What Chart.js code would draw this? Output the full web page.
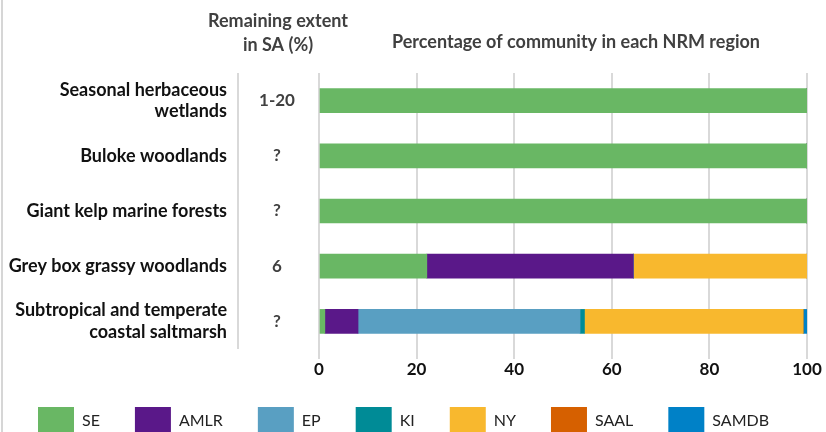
<!DOCTYPE html>
<html>
<head>
<meta charset="utf-8">
<script src="https://cdn.jsdelivr.net/npm/chart.js@4"></script>
<style>
  html, body { margin: 0; padding: 0; background: #fff; overflow: hidden; }
  #wrap { width: 826px; height: 432px; }
</style>
</head>
<body>
<div id="wrap"><canvas id="chart" width="826" height="432"></canvas></div>
<script>
//------------------Data------------------
const communities = [
  ['Seasonal herbaceous', 'wetlands'],
  'Buloke woodlands',
  'Giant kelp marine forests',
  'Grey box grassy woodlands',
  ['Subtropical and temperate', 'coastal saltmarsh'],
];
const remainingExtent = ['1-20', '?', '?', '6', '?'];
const regions = ['SE', 'AMLR', 'EP', 'KI', 'NY', 'SAAL', 'SAMDB'];
const seVals = [100, 100, 100, 22.1, 1.2];
const amlrVals = [0, 0, 0, 42.3, 6.8];
const epVals = [0, 0, 0, 0, 45.5];
const kiVals = [0, 0, 0, 0, 0.9];
const nyVals = [0, 0, 0, 35.6, 44.8];
const saalVals = [0, 0, 0, 0, 0];
const samdbVals = [0, 0, 0, 0, 0.8];
const xTicks = [0, 20, 40, 60, 80, 100];

const regionColors = ['#69b764', '#5a1889', '#599fc2', '#008b96', '#f8b82e', '#d66000', '#0081c7'];
const seriesVals = [seVals, amlrVals, epVals, kiVals, nyVals, saalVals, samdbVals];

const FONT = 'Lato, "Open Sans", sans-serif';

//------------------Extra drawing: headers, extent column, frame------------------
const extrasPlugin = {
  id: 'extras',
  beforeLayout(chart) {
    // legend only takes the strip under the axis labels
    const legend = chart.legend;
    if (legend && !legend._patched) {
      const fit = legend.fit;
      legend.fit = function () {
        fit.call(this);
        this.height = 53;
      };
      legend._patched = true;
    }
  },
  afterLayout(chart) {
    // pull the legend up a little so its boxes sit where the original has them
    const legend = chart.legend;
    legend.top = 372;
    legend.height = 60;
    legend.bottom = 432;
  },
  afterDraw(chart) {
    const ctx = chart.ctx;
    const area = chart.chartArea;
    const yScale = chart.scales.y;
    ctx.save();

    // frame line on the left
    ctx.strokeStyle = '#c8c8c8';
    ctx.lineWidth = 1.5;
    ctx.beginPath();
    ctx.moveTo(2, 0);
    ctx.lineTo(2, 432);
    ctx.stroke();

    // separator between labels and extent column
    ctx.strokeStyle = '#d9d9d9';
    ctx.lineWidth = 2;
    ctx.beginPath();
    ctx.moveTo(238, area.top);
    ctx.lineTo(238, area.bottom);
    ctx.stroke();

    // header texts
    ctx.fillStyle = '#404040';
    ctx.font = `bold 18px ${FONT}`;
    ctx.textAlign = 'center';
    ctx.textBaseline = 'middle';
    ctx.fillText('Remaining extent', 278, 21);
    ctx.fillText('in SA (%)', 278, 45);
    ctx.fillText('Percentage of community in each NRM region', 576, 42);

    // extent values
    ctx.font = `bold 17px ${FONT}`;
    remainingExtent.forEach((v, i) => {
      ctx.fillText(v, 277, yScale.getPixelForValue(i));
    });
    ctx.restore();
  },
};

//------------------Chart------------------
new Chart(document.getElementById('chart'), {
  type: 'bar',
  data: {
    labels: communities,
    datasets: regions.map((name, i) => ({
      label: name,
      data: seriesVals[i],
      backgroundColor: regionColors[i],
      borderWidth: 0,
      barThickness: 24,
    })),
  },
  options: {
    indexAxis: 'y',
    responsive: false,
    animation: false,
    layout: { padding: { top: 73, right: 19, left: 0, bottom: 0 } },
    scales: {
      x: {
        stacked: true,
        min: 0,
        max: 100,
        afterBuildTicks(scale) {
          scale.ticks = xTicks.map((v) => ({ value: v }));
        },
        afterFit(scale) {
          scale.height = 30;
        },
        grid: { color: '#d9d9d9', lineWidth: 2, tickLength: 10, drawTicks: true },
        border: { display: false },
        ticks: {
          padding: 0,
          color: '#111',
          font: { family: FONT, size: 17, weight: 'bold' },
        },
      },
      y: {
        stacked: true,
        afterFit(scale) {
          scale.width = 319;
          scale.paddingTop = 0;
          scale.paddingBottom = 0;
        },
        grid: { display: false, drawTicks: false },
        border: { display: false },
        ticks: {
          padding: 92,
          color: '#111',
          font: { family: FONT, size: 18, weight: 'bold' },
        },
      },
    },
    plugins: {
      legend: {
        position: 'bottom',
        labels: {
          boxWidth: 36,
          boxHeight: 28,
          padding: 35,
          color: '#222',
          font: { family: FONT, size: 16 },
        },
      },
      tooltip: { enabled: false },
    },
  },
  plugins: [extrasPlugin],
});
</script>
</body>
</html>
